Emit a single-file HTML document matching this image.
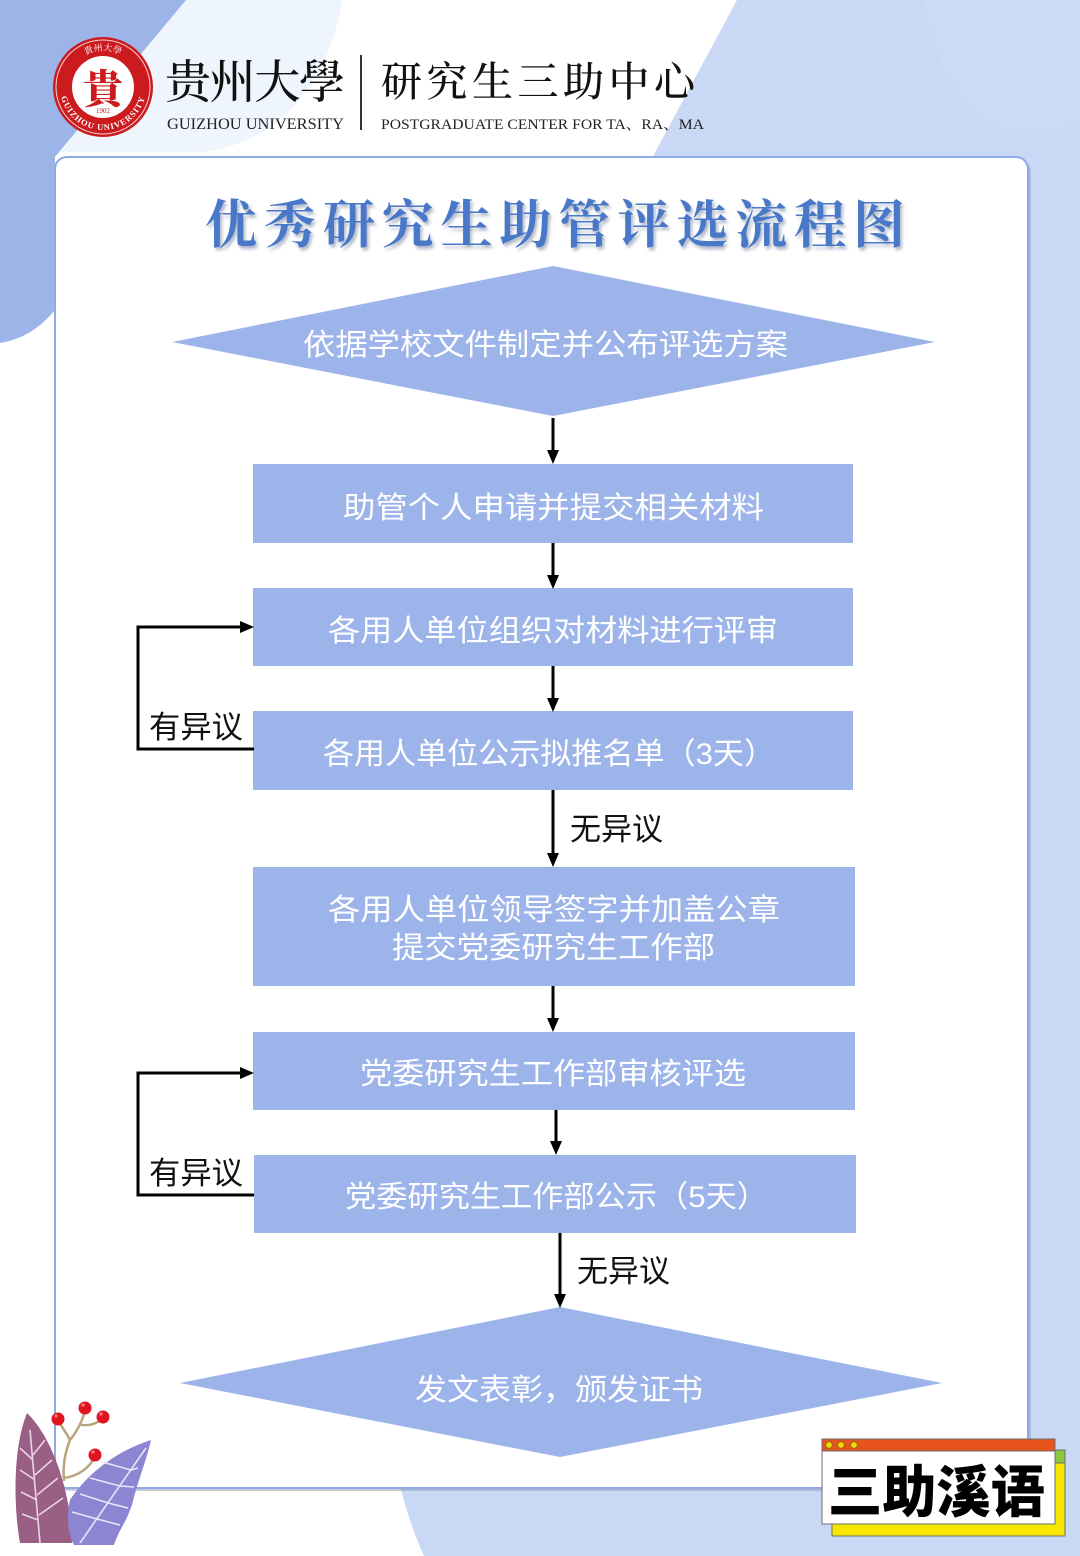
<!DOCTYPE html>
<html>
<head>
<meta charset="utf-8">
<style>
  html,body{margin:0;padding:0;background:#fff;}
  body{width:1080px;height:1556px;overflow:hidden;}
  svg{display:block;}
</style>
</head>
<body>
<svg width="1080" height="1556" viewBox="0 0 1080 1556" xmlns="http://www.w3.org/2000/svg">
  <defs>
    <filter id="tsh" x="-5%" y="-20%" width="110%" height="150%">
      <feDropShadow dx="2" dy="3" stdDeviation="1.5" flood-color="#6b7a99" flood-opacity="0.55"/>
    </filter>
    <path id="ringBottom" d="M 60 87 A 43 43 0 0 0 146 87"/>
    <path id="ringTop" d="M 66 80 A 38 38 0 0 1 140 80"/>
  </defs>

  <!-- background -->
  <rect x="0" y="0" width="1080" height="1556" fill="#ffffff"/>
  <!-- pale region top-left -->
  <path d="M186,0 L342,0 C330,80 280,145 200,152 L60,152 Z" fill="#eef5fd"/>
  <!-- left blue -->
  <path d="M0,0 L186,0 L55,157 L55,310 Q32,338 0,343 Z" fill="#9db4e9"/>
  <!-- right light blue -->
  <path d="M737,0 L1080,0 L1080,1556 L1000,1556 L1000,160 L651,160 Z" fill="#c8d8f5"/>
  <!-- subtle circle top-right -->
  <path d="M923,0 C935,80 975,133 1030,133 C1055,133 1070,125 1080,118 L1080,0 Z" fill="#cbdaf6"/>
  <!-- bottom light blue -->
  <path d="M400,1486 Q410,1525 424,1556 L1080,1556 L1080,1486 Z" fill="#c8d8f5"/>

  <!-- card shadow -->
  <rect x="58" y="160" width="973" height="1331" rx="12" fill="#9aa3b5" opacity="0.55"/>
  <!-- card -->
  <rect x="55" y="157" width="973" height="1331" rx="12" fill="#ffffff" stroke="#8eaae6" stroke-width="2"/>

  <!-- logo -->
  <circle cx="103" cy="87" r="50" fill="#cc1b1f"/>
  <circle cx="103" cy="87" r="47" fill="none" stroke="#f3d0d0" stroke-width="1"/>
  <circle cx="103" cy="87" r="31" fill="#ffffff"/>
  <text x="103" y="103" text-anchor="middle" font-family="'Noto Serif CJK TC','Noto Serif CJK SC',serif" font-weight="900" font-size="40" fill="#cc1b1f">貴</text>
  <text x="103" y="113" text-anchor="middle" font-family="'Liberation Serif',serif" font-size="7" fill="#cc1b1f">1902</text>
  <text font-family="'Liberation Serif',serif" font-size="8.5" font-weight="bold" fill="#ffffff" letter-spacing="1"><textPath href="#ringBottom" startOffset="50%" text-anchor="middle">GUIZHOU UNIVERSITY</textPath></text>
  <text font-family="'Noto Serif CJK SC',serif" font-size="9" fill="#ffffff"><textPath href="#ringTop" startOffset="50%" text-anchor="middle">貴州大學</textPath></text>

  <!-- header texts -->
  <text x="165" y="98" font-family="'Noto Serif CJK TC','Noto Serif CJK SC',serif" font-size="46" font-weight="500" fill="#111" textLength="180" lengthAdjust="spacing">贵州大學</text>
  <rect x="360" y="55" width="2" height="75" fill="#333"/>
  <text x="381" y="96" font-family="'Noto Serif CJK SC',serif" font-size="41" font-weight="500" fill="#111" textLength="314" lengthAdjust="spacing">研究生三助中心</text>
  <text x="167" y="129" font-family="'Liberation Serif',serif" font-size="16" fill="#222" textLength="177" lengthAdjust="spacingAndGlyphs">GUIZHOU  UNIVERSITY</text>
  <text x="381" y="129" font-family="'Liberation Serif','Noto Serif CJK SC',serif" font-size="15" fill="#222" textLength="323" lengthAdjust="spacingAndGlyphs">POSTGRADUATE  CENTER  FOR  TA、RA、MA</text>

  <!-- title -->
  <text x="205" y="243" filter="url(#tsh)" font-family="'Noto Serif CJK SC',serif" font-weight="700" font-size="52" fill="#4a78c8" textLength="700" lengthAdjust="spacing">优秀研究生助管评选流程图</text>

  <!-- shapes -->
  <g fill="#9db4ea">
    <polygon points="172,342 553,266 935,342 553,416"/>
    <rect x="253" y="464" width="600" height="79"/>
    <rect x="253" y="588" width="600" height="78"/>
    <rect x="253" y="711" width="600" height="79"/>
    <rect x="253" y="867" width="602" height="119"/>
    <rect x="253" y="1032" width="602" height="78"/>
    <rect x="254" y="1155" width="602" height="78"/>
    <polygon points="180,1383 560,1307 942,1383 560,1457"/>
  </g>

  <!-- node text -->
  <g font-family="'Liberation Sans','Noto Sans CJK SC',sans-serif" font-size="30" fill="#ffffff" text-anchor="start">
    <text x="303" y="355" textLength="485" lengthAdjust="spacingAndGlyphs">依据学校文件制定并公布评选方案</text>
    <text x="343" y="518" textLength="421" lengthAdjust="spacingAndGlyphs">助管个人申请并提交相关材料</text>
    <text x="328" y="641" textLength="450" lengthAdjust="spacingAndGlyphs">各用人单位组织对材料进行评审</text>
    <text x="323" y="764" textLength="452" lengthAdjust="spacingAndGlyphs">各用人单位公示拟推名单（3天）</text>
    <text x="328" y="920" textLength="452" lengthAdjust="spacingAndGlyphs">各用人单位领导签字并加盖公章</text>
    <text x="392" y="958" textLength="323" lengthAdjust="spacingAndGlyphs">提交党委研究生工作部</text>
    <text x="360" y="1084" textLength="386" lengthAdjust="spacingAndGlyphs">党委研究生工作部审核评选</text>
    <text x="345" y="1207" textLength="423" lengthAdjust="spacingAndGlyphs">党委研究生工作部公示（5天）</text>
    <text x="415" y="1400" textLength="288" lengthAdjust="spacingAndGlyphs">发文表彰，颁发证书</text>
  </g>

  <!-- connectors -->
  <g stroke="#000" stroke-width="3" fill="none">
    <line x1="553" y1="418" x2="553" y2="452"/>
    <line x1="553" y1="543" x2="553" y2="577"/>
    <line x1="553" y1="666" x2="553" y2="700"/>
    <line x1="553" y1="790" x2="553" y2="855"/>
    <line x1="553" y1="986" x2="553" y2="1020"/>
    <line x1="556" y1="1110" x2="556" y2="1143"/>
    <line x1="560" y1="1233" x2="560" y2="1296"/>
    <polyline points="254,749 138,749 138,627 242,627"/>
    <polyline points="254,1195 138,1195 138,1073 242,1073"/>
  </g>
  <g fill="#000">
    <polygon points="547,450 559,450 553,464"/>
    <polygon points="547,575 559,575 553,589"/>
    <polygon points="547,698 559,698 553,712"/>
    <polygon points="547,853 559,853 553,867"/>
    <polygon points="547,1018 559,1018 553,1032"/>
    <polygon points="550,1141 562,1141 556,1155"/>
    <polygon points="554,1294 566,1294 560,1308"/>
    <polygon points="240,621 240,633 254,627"/>
    <polygon points="240,1067 240,1079 254,1073"/>
  </g>

  <!-- edge labels -->
  <g font-family="'Liberation Sans','Noto Sans CJK SC',sans-serif" font-size="31" fill="#111">
    <text x="149" y="738" textLength="94" lengthAdjust="spacingAndGlyphs">有异议</text>
    <text x="570" y="840" textLength="93" lengthAdjust="spacingAndGlyphs">无异议</text>
    <text x="149" y="1184" textLength="94" lengthAdjust="spacingAndGlyphs">有异议</text>
    <text x="577" y="1282" textLength="93" lengthAdjust="spacingAndGlyphs">无异议</text>
  </g>

  <!-- bottom-left decoration -->
  <g>
    <g stroke="#b9a57a" stroke-width="2.5" fill="none" stroke-linecap="round">
      <path d="M64,1480 C62,1460 68,1445 70,1440 C66,1432 60,1425 58,1419"/>
      <path d="M70,1440 C78,1430 84,1418 85,1408"/>
      <path d="M82,1425 C92,1426 100,1422 103,1417"/>
      <path d="M64,1478 C78,1476 90,1468 95,1456"/>
    </g>
    <path d="M27,1413 C12,1450 14,1510 20,1543 L72,1543 C72,1500 55,1440 27,1413 Z" fill="#9a5f85"/>
    <g stroke="#e9d6e3" stroke-width="1.6" fill="none">
      <path d="M30,1430 L40,1543"/>
      <path d="M33,1460 L20,1448 M35,1480 L20,1470 M37,1500 L21,1492 M38,1520 L22,1514"/>
      <path d="M33,1455 L45,1440 M35,1475 L52,1460 M37,1495 L58,1478 M39,1515 L63,1498"/>
    </g>
    <path d="M151,1440 C120,1450 90,1470 70,1500 C66,1515 68,1535 74,1545 L114,1545 C118,1532 124,1525 128,1515 L132,1505 C138,1480 146,1462 151,1440 Z" fill="#8d84d2"/>
    <g stroke="#e8e6f7" stroke-width="1.6" fill="none">
      <path d="M146,1448 L80,1543"/>
      <path d="M131,1470 L102,1462 M120,1486 L90,1478 M108,1503 L80,1494 M97,1519 L72,1512"/>
      <path d="M131,1470 L138,1468 M120,1486 L134,1487 M108,1503 L128,1508 M97,1519 L120,1525"/>
    </g>
    <g fill="#e0141e">
      <circle cx="58" cy="1419" r="6.5"/>
      <circle cx="85" cy="1408" r="6.5"/>
      <circle cx="103" cy="1417" r="6.5"/>
      <circle cx="95" cy="1455" r="6.5"/>
    </g>
    <g fill="#ff8a8a" opacity="0.8">
      <circle cx="56" cy="1416" r="1.8"/>
      <circle cx="83" cy="1405" r="1.8"/>
      <circle cx="101" cy="1414" r="1.8"/>
      <circle cx="93" cy="1452" r="1.8"/>
    </g>
  </g>

  <!-- bottom-right badge -->
  <g>
    <rect x="832" y="1450" width="233" height="86" fill="#f7e600" stroke="#6e6e6e" stroke-width="1"/>
    <rect x="1055" y="1450" width="10" height="13" fill="#8cc63f" stroke="#6e6e6e" stroke-width="1"/>
    <rect x="822" y="1439" width="233" height="85" fill="#ffffff" stroke="#6e6e6e" stroke-width="1"/>
    <rect x="822" y="1439" width="233" height="12" fill="#e6541b" stroke="#6e6e6e" stroke-width="1"/>
    <circle cx="829" cy="1445" r="3.3" fill="#f5d800" stroke="#7a6a20" stroke-width="0.8"/>
    <circle cx="841" cy="1445" r="3.3" fill="#f5d800" stroke="#7a6a20" stroke-width="0.8"/>
    <circle cx="854" cy="1445" r="3.3" fill="#f5d800" stroke="#7a6a20" stroke-width="0.8"/>
    <text x="828" y="1512" font-family="'Noto Sans CJK SC',sans-serif" font-weight="900" font-size="56" fill="#000" textLength="217" lengthAdjust="spacingAndGlyphs">三助溪语</text>
  </g>
</svg>
</body>
</html>
